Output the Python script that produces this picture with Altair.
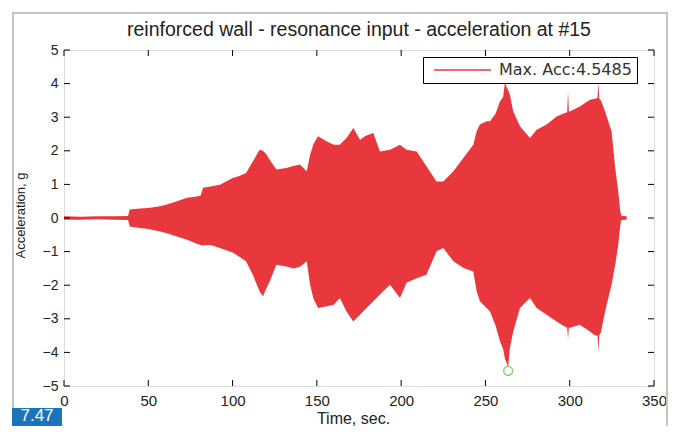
import altair as alt
import pandas as pd

# ---- data (envelope of the acceleration record) ----
time_s = [0, 10, 20, 30, 38, 39, 45, 50, 57, 62,
          67, 73, 78, 81, 82.5, 87, 92.5, 100, 104, 108,
          112, 116, 118, 120, 122, 126, 132, 136, 140, 144,
          146, 148, 150.7, 156, 160, 163.6, 167.6, 171.6, 175.6, 179,
          183.5, 187.4, 193.4, 199.3, 203.2, 209.2, 215, 221, 225, 231,
          237, 242.8, 244.8, 246.7, 250.7, 252.7, 256, 258.6, 260.5, 261.6,
          262.5, 263.5, 264.5, 266.5, 270.5, 276.4, 280.4, 286.3, 292.2, 296,
          298.5, 299, 299.5, 300, 306, 312, 315, 316.5, 317, 317.5,
          318.5, 321, 324.8, 327, 328.8, 329.8, 330.5, 333.7]
upper_g = [0.05, 0.04, 0.05, 0.05, 0.06, 0.25, 0.28, 0.30, 0.35, 0.42,
           0.50, 0.60, 0.63, 0.66, 0.90, 0.94, 0.99, 1.19, 1.25, 1.34,
           1.68, 2.03, 2.00, 1.90, 1.73, 1.44, 1.49, 1.55, 1.59, 1.39,
           1.88, 2.20, 2.43, 2.28, 2.18, 2.18, 2.38, 2.68, 2.33, 2.45,
           2.53, 1.98, 2.03, 2.18, 2.03, 1.98, 1.54, 1.09, 1.09, 1.39,
           1.79, 2.18, 2.58, 2.78, 2.88, 2.88, 3.10, 3.47, 3.60, 4.05,
           3.90, 3.80, 3.67, 3.17, 2.73, 2.38, 2.63, 2.78, 3.02, 3.10,
           3.15, 3.77, 3.17, 3.17, 3.32, 3.52, 3.55, 3.57, 4.05, 3.55,
           3.50, 3.17, 2.58, 1.49, 0.79, 0.30, 0.07, 0.05]
lower_g = [-0.05, -0.05, -0.04, -0.05, -0.06, -0.25, -0.30, -0.33, -0.40, -0.47,
           -0.55, -0.65, -0.75, -0.80, -0.82, -0.80, -0.89, -1.03, -1.15, -1.29,
           -1.69, -2.18, -2.33, -2.10, -1.89, -1.39, -1.44, -1.50, -1.45, -1.29,
           -1.99, -2.40, -2.68, -2.63, -2.58, -2.38, -2.78, -3.08, -2.88, -2.70,
           -2.48, -2.28, -1.99, -2.38, -1.93, -1.79, -1.69, -0.99, -0.89, -1.29,
           -1.49, -1.59, -2.18, -2.48, -2.68, -2.78, -3.20, -3.67, -3.90, -4.20,
           -4.30, -4.45, -3.87, -3.38, -2.68, -2.38, -2.68, -2.88, -3.08, -3.20,
           -3.27, -3.60, -3.27, -3.27, -3.18, -3.38, -3.50, -3.50, -3.97, -3.50,
           -3.40, -2.78, -1.99, -1.39, -0.80, -0.30, -0.06, -0.05]

peak_time = [263.5]
peak_acc = [-4.5485]
legend_label = "Max. Acc:4.5485"
title_text = "reinforced wall - resonance input - acceleration at #15"
figure_tag = "7.47"

x_ticks = [0, 50, 100, 150, 200, 250, 300, 350]
y_ticks = [-5, -4, -3, -2, -1, 0, 1, 2, 3, 4, 5]

# ---- styling ----
W, H = 590, 336
RED = "#e8383d"
GREEN = "#58b947"
FONT = "Liberation Sans"
TXT = "#222222"
TICK = 6

df = pd.DataFrame({"t": time_s, "up": upper_g, "lo": lower_g})
df["mid"] = (df["up"] + df["lo"]) / 2
df["series"] = legend_label

peak_df = pd.DataFrame({"t": peak_time, "a": peak_acc})
xt_df = pd.DataFrame({"v": x_ticks})
yt_df = pd.DataFrame({"v": y_ticks})
one = pd.DataFrame({"k": [0]})

xs = alt.Scale(domain=[0, 350], nice=False, zero=False)
ys = alt.Scale(domain=[-5, 5], nice=False, zero=False)

x_axis = alt.Axis(values=x_ticks, ticks=False, domain=False, grid=False,
                  title="Time, sec.", labelFontSize=15, labelPadding=7,
                  labelOverlap=False, labelFlush=False,
                  labelColor=TXT, titleColor=TXT, titleFontSize=16,
                  titleFontWeight="normal", titleX=289, titleY=32,
                  titleBaseline="middle", labelFont=FONT, titleFont=FONT)
y_axis = alt.Axis(values=y_ticks, ticks=False, domain=False, grid=False,
                  title="Acceleration, g", labelFontSize=14, labelPadding=6,
                  labelOverlap=False, labelFlush=False, labelBound=False,
                  labelColor=TXT, titleColor=TXT, titleFontSize=13,
                  titleFontWeight="normal", titleX=-44, titleY=165,
                  titleBaseline="middle", labelFont=FONT, titleFont=FONT)


def X(field):
    return alt.X(field, scale=xs, axis=x_axis, title="Time, sec.")


def Y(field):
    return alt.Y(field, scale=ys, axis=y_axis, title="Acceleration, g")


# outer gray frame and figure tag (decoration outside the plot)
frame = alt.Chart(one).mark_rect(fill=None, stroke="#c4c4c4", strokeWidth=2).encode(
    x=alt.value(-51), x2=alt.value(603), y=alt.value(-37), y2=alt.value(400))
tag_box = alt.Chart(one).mark_rect(fill="#1b74ba").encode(
    x=alt.value(-52), x2=alt.value(-2), y=alt.value(358), y2=alt.value(390))
tag_text = alt.Chart(one).mark_text(color="white", fontSize=17, font=FONT,
                                    align="center", baseline="alphabetic").encode(
    x=alt.value(-27), y=alt.value(371), text=alt.value(figure_tag))

area = alt.Chart(df).mark_area(color=RED, opacity=1).encode(
    x=X("t:Q"), y=Y("up:Q"), y2="lo:Q")

line = alt.Chart(df).mark_line(strokeWidth=1.2, opacity=1).encode(
    x=X("t:Q"), y=Y("mid:Q"),
    color=alt.Color("series:N", scale=alt.Scale(range=[RED]),
                    legend=alt.Legend(title=None, orient="none", legendX=359, legendY=7,
                                      symbolType="stroke", symbolSize=3249,
                                      symbolStrokeWidth=1.3, symbolOffset=5,
                                      symbolStrokeColor=RED, symbolOpacity=1,
                                      clipHeight=16,
                                      labelOffset=7, labelFontSize=16,
                                      labelFont="DejaVu Sans", labelColor="#333333",
                                      strokeColor="black", fillColor="white",
                                      padding=5, labelLimit=300)))

peak = alt.Chart(peak_df).mark_point(shape="circle", filled=False, color=GREEN,
                                     size=80, strokeWidth=1.5).encode(
    x=X("t:Q"), y=Y("a:Q"))

# inward ticks on all four sides (MATLAB box style)
tb = alt.Chart(xt_df).mark_rule(color="black", strokeWidth=1).encode(
    x=X("v:Q"), y=alt.value(H), y2=alt.value(H - TICK))
tt = alt.Chart(xt_df).mark_rule(color="black", strokeWidth=1).encode(
    x=X("v:Q"), y=alt.value(0), y2=alt.value(TICK))
tl = alt.Chart(yt_df).mark_rule(color="black", strokeWidth=1).encode(
    y=Y("v:Q"), x=alt.value(0), x2=alt.value(TICK))
tr = alt.Chart(yt_df).mark_rule(color="black", strokeWidth=1).encode(
    y=Y("v:Q"), x=alt.value(W), x2=alt.value(W - TICK))

chart = alt.layer(frame, tag_box, tag_text, area, line, peak, tb, tt, tl, tr).properties(
    width=W, height=H,
    title=alt.TitleParams(title_text, fontSize=19.5, font=FONT, fontWeight="normal",
                          color=TXT, anchor="middle", baseline="alphabetic",
                          offset=14, dy=57, frame="group"),
    autosize=alt.AutoSizeParams(type="none"),
    padding={"left": 56, "top": 42, "right": 17, "bottom": 40},
).configure_view(stroke="black", strokeWidth=1).configure(background="white")

chart.save("out.html", embed_options={"renderer": "svg", "actions": False})
